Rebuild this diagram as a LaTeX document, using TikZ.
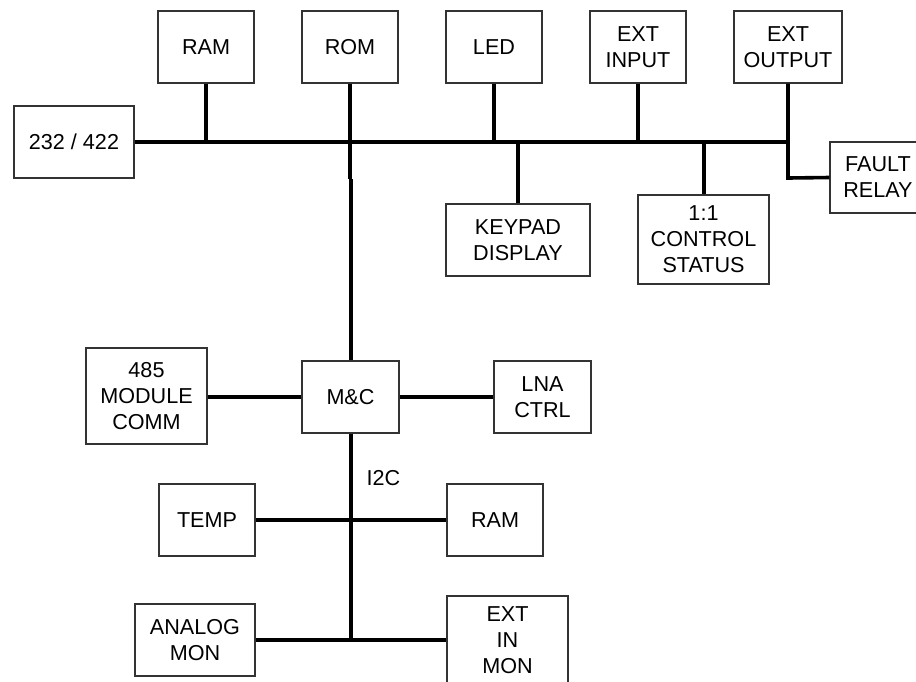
\documentclass[tikz,border=0pt]{standalone}
\usepackage{fontspec}
\setmainfont{Liberation Sans}
\begin{document}
\begin{tikzpicture}[x=0.5pt,y=-0.5pt,
  blk/.style={draw=black!80,line width=0.55pt,rectangle,inner sep=0pt,align=center,
    font=\fontsize{10.8pt}{13pt}\selectfont},
  bus/.style={line width=1.8pt,black}]
\useasboundingbox (0,0) rectangle (916,681);
% boxes
\node[blk,minimum width=60pt,minimum height=36pt] (s232) at (74,142) {232 / 422};
\node[blk,minimum width=48pt,minimum height=36pt] (ram1) at (206,47) {RAM};
\node[blk,minimum width=48pt,minimum height=36pt] (rom) at (350,47) {ROM};
\node[blk,minimum width=48pt,minimum height=36pt] (led) at (494,47) {LED};
\node[blk,minimum width=48pt,minimum height=36pt] (extin) at (638,47) {EXT\\INPUT};
\node[blk,minimum width=54pt,minimum height=36pt] (extout) at (788,47) {EXT\\OUTPUT};
\node[blk,minimum width=48pt,minimum height=35.5pt] (fault) at (878,177.5) {FAULT\\RELAY};
\node[blk,minimum width=72pt,minimum height=36pt] (keypad) at (518,240) {KEYPAD\\DISPLAY};
\node[blk,minimum width=65.5pt,minimum height=44.5pt] (ctrl) at (703.5,239.5) {1:1\\CONTROL\\STATUS};
\node[blk,minimum width=48.5pt,minimum height=36pt] (mc) at (350.5,397) {M\&C};
\node[blk,minimum width=60.5pt,minimum height=48pt] (m485) at (146.5,396) {485\\MODULE\\COMM};
\node[blk,minimum width=48.5pt,minimum height=36pt] (lna) at (542.5,397) {LNA\\CTRL};
\node[blk,minimum width=48pt,minimum height=36pt] (temp) at (207,520) {TEMP};
\node[blk,minimum width=48pt,minimum height=36pt] (ram2) at (495,520) {RAM};
\node[blk,minimum width=60pt,minimum height=36pt] (analog) at (195,640) {ANALOG\\MON};
\node[blk,minimum width=60.5pt,minimum height=44pt] (extinmon) at (507.5,640) {EXT\\IN\\MON};
\node[font=\fontsize{10.8pt}{13pt}\selectfont,inner sep=0pt] (i2c) at (383.5,478) {I2C};
% coordinates
\coordinate (busend) at (788,142);
\coordinate (jram) at (206,142);
\coordinate (jrom) at (350,142);
\coordinate (jled) at (494,142);
\coordinate (jextin) at (638,142);
\coordinate (jkey) at (518,142);
\coordinate (jctrl) at (704,142);
\coordinate (jfault) at (788,178);
\coordinate (romlow) at (350,179);
\coordinate (mctop) at (351,179);
\coordinate (jana) at (351,640);
% bus
\draw[bus] (s232.east) -- (busend);
\draw[bus] (ram1.south) -- (jram);
\draw[bus] (rom.south) -- (romlow);
\draw[bus] (mctop) -- (mc.north -| mctop);
\draw[bus] (led.south) -- (jled);
\draw[bus] (extin.south) -- (jextin);
\draw[bus] (extout.south) -- (jfault) -- (fault.west);
\draw[bus] (jkey) -- (keypad.north -| jkey);
\draw[bus] (jctrl) -- (ctrl.north -| jctrl);
\draw[bus] (m485.east |- mc.west) -- (mc.west);
\draw[bus] (mc.east) -- (lna.west);
\draw[bus] (mc.south -| jana) -- (jana);
\draw[bus] (temp.east) -- (ram2.west);
\draw[bus] (analog.east) -- (extinmon.west);
\end{tikzpicture}
\end{document}
